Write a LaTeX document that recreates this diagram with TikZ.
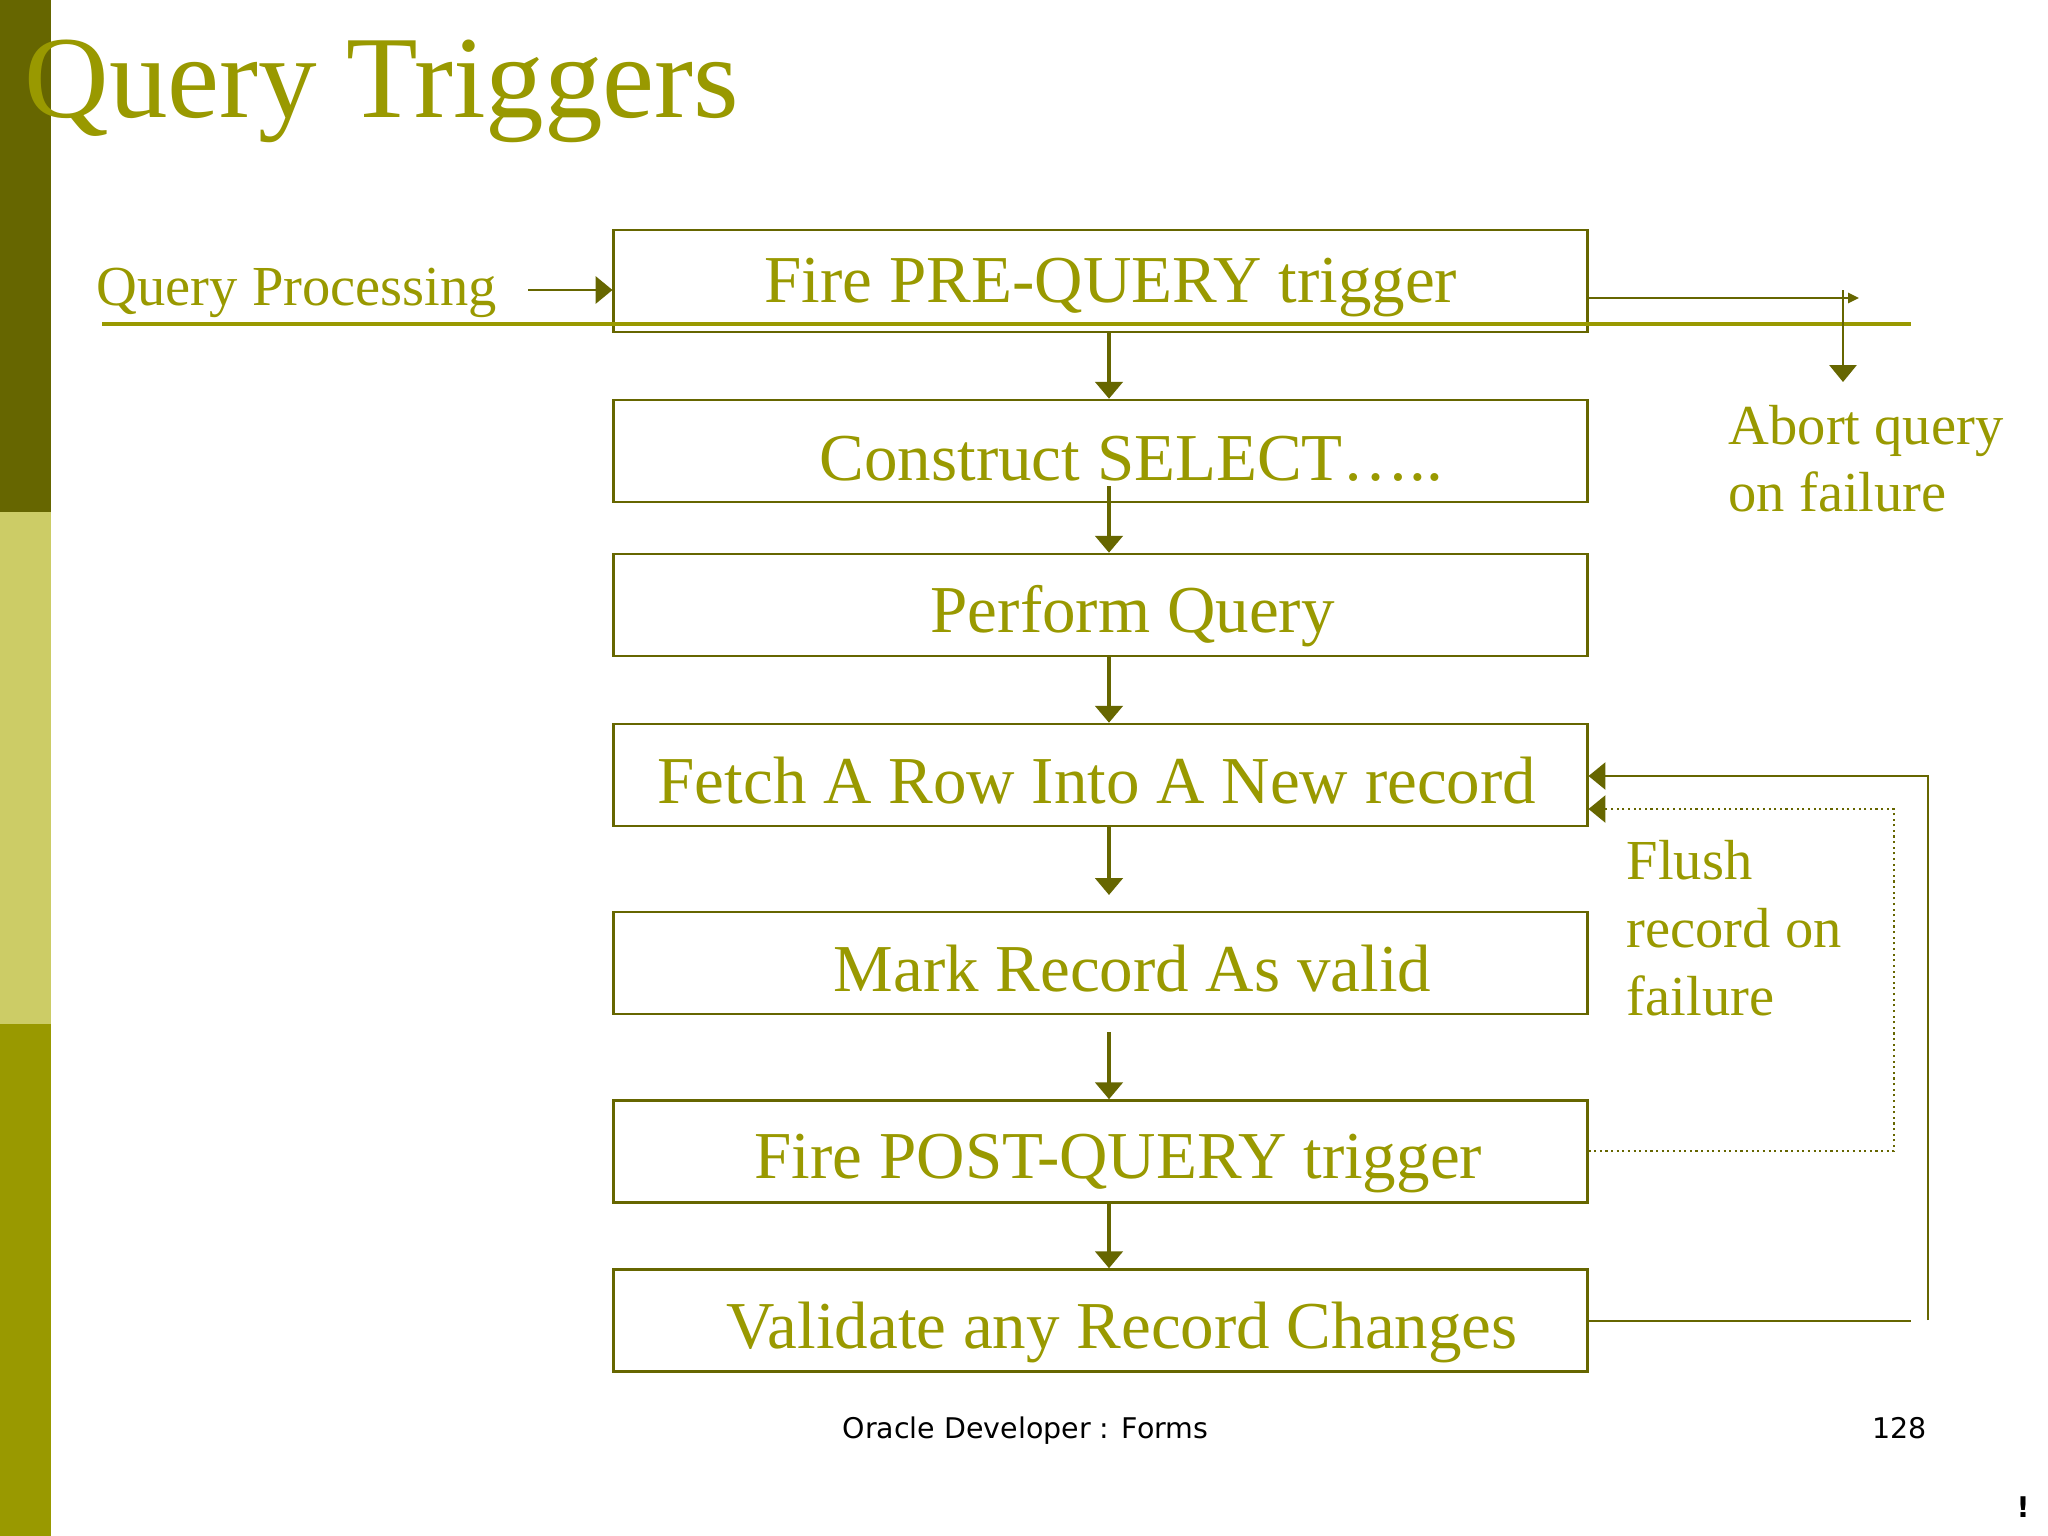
\documentclass[tikz,border=0pt]{standalone}
\usepackage{fontspec}
\setmainfont{Liberation Serif}
\newfontfamily\footfont{DejaVu Sans}
\usetikzlibrary{arrows.meta}
\definecolor{darkol}{HTML}{666600}
\definecolor{midol}{HTML}{999900}
\definecolor{lightol}{HTML}{CCCC66}
\begin{document}
\begin{tikzpicture}[x=0.01cm,y=-0.01cm,
  box/.style={draw=darkol,line width=0.7pt,minimum width=9.73cm,minimum height=1.02cm,inner sep=0pt},
  boxtxt/.style={anchor=base west,inner sep=0pt,text=midol,font=\fontsize{19.06pt}{22pt}\selectfont},
  lbl/.style={anchor=base west,inner sep=0pt,text=midol,font=\fontsize{16.07pt}{19pt}\selectfont},
  foot/.style={anchor=base west,inner sep=0pt,text=black,font=\footfont\fontsize{8.1pt}{10pt}\selectfont},
  bigtip/.tip={Triangle[length=4.8pt,width=7.7pt]},
  smalltip/.tip={Triangle[length=3.1pt,width=2.9pt]},
  varr/.style={draw=darkol,line width=1.3pt,-bigtip},
  conn/.style={draw=darkol,line width=0.6pt}]
\useasboundingbox[fill=white] (0,0) rectangle (2048,1536);
% side bar
\fill[darkol] (0,0) rectangle (51,512);
\fill[lightol] (0,512) rectangle (51,1024);
\fill[midol] (0,1024) rectangle (51,1536);
% title
\node[anchor=base west,inner sep=0pt,text=midol,font=\fontsize{33.3pt}{40pt}\selectfont] (title) at (24,117) {Query Triggers};
% boxes
\node[box] (b1) at (1100.5,281) {};
\node[box] (b2) at (1100.5,451) {};
\node[box] (b3) at (1100.5,605) {};
\node[box] (b4) at (1100.5,775) {};
\node[box] (b5) at (1100.5,963) {};
\node[box] (b6) at (1100.5,1151.5) {};
\node[box] (b7) at (1100.5,1320.5) {};
\node[boxtxt] (t1) at (764,302) {Fire PRE-QUERY trigger};
\node[boxtxt] (t2) at (819,480) {Construct SELECT…..};
\node[boxtxt] (t3) at (930,632) {Perform Query};
\node[boxtxt] (t4) at (657,803) {Fetch A Row Into A New record};
\node[boxtxt] (t5) at (833,991) {Mark Record As valid};
\node[boxtxt] (t6) at (754,1178) {Fire POST-QUERY trigger};
\node[boxtxt] (t7) at (726,1348) {Validate any Record Changes};
% vertical arrows
\coordinate (ax) at (1109,0);
\coordinate (a2s) at (1109,486);
\coordinate (a4e) at (1109,895);
\coordinate (a5s) at (1109,1032);
\draw[varr] (ax |- b1.south) -- (ax |- b2.north);
\draw[varr] (a2s) -- (ax |- b3.north);
\draw[varr] (ax |- b3.south) -- (ax |- b4.north);
\draw[varr] (ax |- b4.south) -- (a4e);
\draw[varr] (a5s) -- (ax |- b6.north);
\draw[varr] (ax |- b6.south) -- (ax |- b7.north);
% query processing
\node[lbl] (qp) at (96,305) {Query Processing};
\coordinate (qpa) at (528,290);
\draw[draw=darkol,line width=0.8pt,-bigtip] (qpa) -- (b1.west |- qpa);
\coordinate (ql1) at (102,324);
\coordinate (ql2) at (1911,324);
\draw[midol,line width=1.3pt] (ql1) -- (ql2);
% abort
\coordinate (abh) at (1859,298);
\draw[conn,-smalltip] (b1.east |- abh) -- (abh);
\coordinate (abv1) at (1843,290);
\coordinate (abv2) at (1843,382);
\draw[conn,-bigtip] (abv1) -- (abv2);
\node[lbl] (ab1) at (1728,444) {Abort query};
\node[lbl] (ab2) at (1728,511) {on failure};
% return loops
\coordinate (r1) at (1911,1321);
\draw[conn] (b7.east |- r1) -- (r1);
\coordinate (r2) at (1928,1320);
\coordinate (r3) at (1928,776);
\draw[conn,-bigtip] (r2) -- (r3) -- (b4.east |- r3);
\coordinate (d1) at (1894,1151);
\coordinate (d2) at (1894,809);
\draw[conn,densely dotted,-bigtip] (b6.east |- d1) -- (d1) -- (d2) -- (b4.east |- d2);
\node[lbl] (fl1) at (1626,879) {Flush};
\node[lbl] (fl2) at (1626,947) {record on};
\node[lbl] (fl3) at (1626,1015) {failure};
% footer
\node[foot] (f1) at (842,1438) {Oracle Developer : Forms};
\node[foot] (f2) at (1872,1438) {128};
\node[foot,font=\footfont\bfseries\fontsize{8.1pt}{10pt}\selectfont] (f3) at (2016,1517) {!};
\end{tikzpicture}
\end{document}
